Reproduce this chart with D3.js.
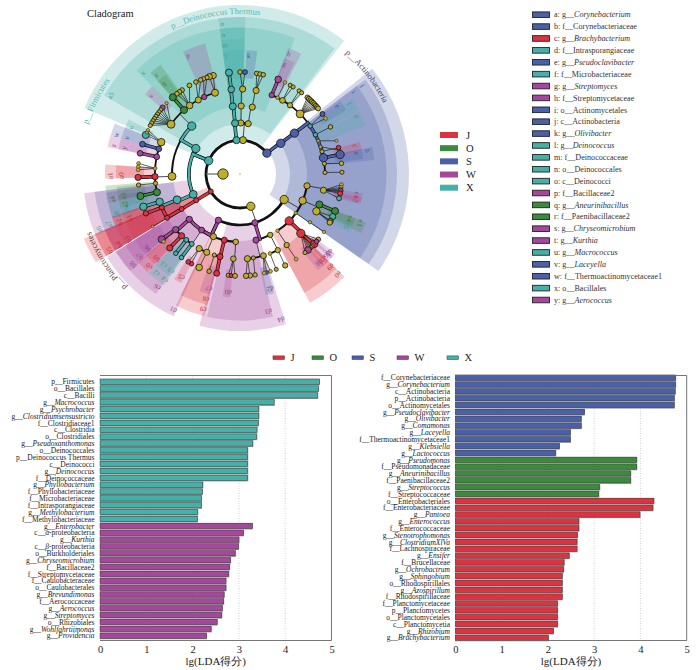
<!DOCTYPE html>
<html><head><meta charset="utf-8">
<script src="https://d3js.org/d3.v7.min.js"></script>
<style>html,body{margin:0;padding:0;background:#fff}svg{display:block}text{font-family:"Liberation Serif",serif}</style>
</head><body><svg id="c" width="700" height="670"></svg>
<script>
// ---------- bar chart data ----------
const leftTaxa=["p__Firmicutes","o__Bacillales","c__Bacilli","g__Macrococcus","g__Psychrobacter","g__Clostridiumsensustricto","f__Clostridiaceae1","c__Clostridia","o__Clostridiales","g__Pseudoxanthomonas","o__Deinococcales","p__Deinococcus Thermus","c__Deinococci","g__Deinococcus","f__Deinococcaceae","g__Phyllobacterium","f__Phyllobacteriaceae","f__Microbacteriaceae","f__Intrasporangiaceae","g__Methylobacterium","f__Methylobacteriaceae","g__Enterobacter","c__α-proteobacteria","g__Kurthia","c__β-proteobacteria","o__Burkholderiales","g__Chryseomicrobium","f__Bacillaceae2","f__Streptomycetaceae","f__Caulobacteraceae","o__Caulobacterales","g__Brevundimonas","f__Aerococcaceae","g__Aerococcus","g__Streptomyces","o__Rhizobiales","g__Wohlfahrtiimonas","g__Providencia"];
const leftValues=[4.74,4.72,4.70,3.76,3.43,3.43,3.42,3.39,3.385,3.30,3.19,3.19,3.19,3.19,3.19,2.22,2.21,2.19,2.19,2.11,2.10,3.29,3.10,3.00,2.99,2.92,2.82,2.80,2.78,2.72,2.72,2.68,2.67,2.64,2.63,2.53,2.40,2.30];
const leftGroups=["X","X","X","X","X","X","X","X","X","X","X","X","X","X","X","X","X","X","X","X","X","W","W","W","W","W","W","W","W","W","W","W","W","W","W","W","W","W"];
const rightTaxa=["f__Corynebacteriaceae","g__Corynebacterium","c__Actinobacteria","p__Actinobacteria","o__Actinomycetales","g__Pseudoclavibacter","g__Olivibacter","g__Comamonas","g__Laceyella","f__Thermoactinomycetaceae1","g__Klebsiella","g__Lactococcus","g__Pseudomonas","f__Pseudomonadaceae","g__Aneurinibacillus","f__Paenibacillaceae2","g__Streptococcus","f__Streptococcaceae","o__Enterobacteriales","f__Enterobacteriaceae","g__Pantoea","g__Enterococcus","f__Enterococcaceae","g__Stenotrophomonas","g__ClostridiumXlVa","f__Lachnospiraceae","g__Ensifer","f__Brucellaceae","g__Ochrobactrum","g__Sphingobium","o__Rhodospirillales","g__Azospirillum","f__Rhodospirillaceae","f__Planctomycetaceae","p__Planctomycetes","o__Planctomycetales","c__Planctomycetia","g__Rhizobium","g__Brachybacterium"];
const rightValues=[4.76,4.76,4.75,4.73,4.73,2.79,2.72,2.72,2.485,2.485,2.25,2.17,3.92,3.92,3.79,3.79,3.12,3.10,4.29,4.27,3.99,2.67,2.67,2.64,2.63,2.63,2.46,2.35,2.34,2.31,2.31,2.31,2.31,2.21,2.21,2.21,2.21,2.12,2.01];
const rightGroups=["S","S","S","S","S","S","S","S","S","S","S","S","O","O","O","O","O","O","J","J","J","J","J","J","J","J","J","J","J","J","J","J","J","J","J","J","J","J","J"];
const groupNames=["J","O","S","W","X"];
const groupColors=["#dd3340","#3c8a3c","#4a60a8","#a5479b","#45b0a8"];
const xTicks=[0,1,2,3,4,5];
// ---------- cladogram legend ----------
const cladeLegend=["a: g__Corynebacterium","b: f__Corynebacteriaceae","c: g__Brachybacterium","d: f__Intrasporangiaceae","e: g__Pseudoclavibacter","f: f__Microbacteriaceae","g: g__Streptomyces","h: f__Streptomycetaceae","i: o__Actinomycetales","j: c__Actinobacteria","k: g__Olivibacter","l: g__Deinococcus","m: f__Deinococcaceae","n: o__Deinococcales","o: c__Deinococci","p: f__Bacillaceae2","q: g__Aneurinibacillus","r: f__Paenibacillaceae2","s: g__Chryseomicrobium","t: g__Kurthia","u: g__Macrococcus","v: g__Laceyella","w: f__Thermoactinomycetaceae1","x: o__Bacillales","y: g__Aerococcus"];
const cladeLegendGroups=["S","S","J","X","S","X","W","W","S","S","S","X","X","X","X","W","O","O","W","W","X","S","S","X","W"];
// ---------- cladogram tree: angle read in degrees, group, abundance class, children ----------
const N="n";
const t=(a,g,s,kids)=>({a,g,s,kids:kids||[]});
const ls=(g,s,as)=>as.map(a=>t(a,g,s));
const actinobacteriaClade=t(52.2,"S",4,[t(53,"S",4,[t(53.1,"S",4,[
  t(21.9,"W",2.6,[t(22,"W",3.2)]),
  t(26.2,N,1.8,ls(N,1.8,[26.2])),
  t(30,N,2.8,ls(N,2,[29.5,31.4])),
  t(36,N,2.6,ls(N,2,[35.4,37.2])),
  t(45,N,3.8,ls(N,2.4,[41.4,42.5,43.6,44.7,45.8,46.9,48,49,50])),
  t(55.6,"X",2.2,[t(54,"S",2.4),t(57,N,1.8)]),
  t(62.5,"X",2.2,ls(N,2.2,[62.5])),
  t(67,N,1.6,ls(N,1.6,[71])),
  t(71.3,N,1.6,ls(N,1.6,[76.5])),
  t(74.7,N,2,[t(75,"J",2.2)]),
  t(79,"S",4,[t(79,"S",4)]),
  t(83,N,2,ls(N,2.2,[84])),
  t(89,N,2,ls(N,2,[89]))
])])]);
const planctomycetesClade=t(-121,"J",2.4,[t(-121,"J",2.4,[t(-121,"J",2.4,[t(-121,"J",2.4,ls(N,1.4,[-121])),t(-113.2,"J",2.4,[t(-112.7,"J",2.6)])])])]);
const firmicutesClade=t(-67,"X",4,[
  t(-60,"X",4,[
    t(-45.2,"X",4,[
      t(-17.1,N,3.4,ls(N,3,[-15.2,-17.5])),
      t(-24.9,"W",2.6,ls(N,2.2,[-18.9,-21])),
      t(-29.4,N,3,ls(N,2.2,[-22.7,-25.6])),
      t(-36.3,N,3.2,ls(N,2.3,[-29.7,-34.6,-36.4,-38.2])),
      t(-41.2,"O",3.4,[t(-41.2,"O",3.4)]),
      t(-54.2,N,3.8,[t(-46,N,1.6),t(-49.4,"W",2.6),...ls(N,2,[-51,-52.5,-54,-55.5,-57,-58.5,-60,-61.6])])
    ]),
    t(-92,N,3.8,[
      t(-68,N,3.6,[t(-67.5,"X",3.4),...ls(N,1.6,[-66,-64.5])]),
      t(-72.8,"S",2.8,[t(-73,"S",2.8)]),
      t(-78.3,"W",2.8,[t(-78.3,"W",2.8)]),
      t(-86.2,N,1.8,ls(N,1.8,[-84,-85.9,-87.7])),
      t(-91.8,"J",3,[t(-91.9,"J",3)]),
      t(-96.3,N,2.1,ls(N,2.1,[-96.2])),
      t(-102.4,"O",3.4,[t(-102.5,"O",3.4)])
    ])
  ]),
  t(-113.5,"X",3.8,[t(-112.3,"X",3.8,[t(-109.1,"X",3.6,[t(-108.7,"X",3.6)])])])
]);
const deinococcusClade=t(-6,"X",3.4,[t(-5.6,"X",3.4,[t(-6.1,"X",3.4,[t(-5.9,"X",3.2,[t(-6.2,"X",3.4)])])])]);
const unlabelledClade=t(5,N,3.4,[
  t(1,N,3,[t(1,N,3,[t(1.8,N,3,[t(0,N,2.2),t(2.8,"S",2.4)])])]),
  t(9.3,N,3,[t(10.4,N,3,[t(10.9,N,3,ls(N,2.2,[9.4,11.3,13.2]))])])
]);
const proteobacteriaClade=t(161.5,N,4,[
  t(120,N,4,[
    t(100,N,3,[t(101,N,3,[...ls(N,1.9,[96,97.5,98.5]),t(99.4,"W",2.4),t(100.2,N,1.9),t(101,"J",2.4),t(103.8,"X",2.4)])]),
    t(113,N,3.6,[t(111,"O",3.4,[t(111.3,"O",3.4)]),t(116,N,3.6,[t(114.7,"X",3),...ls(N,2.6,[117.3,117.7,118.4])])]),
    t(125,N,1.7,[t(124.6,N,1.7,ls(N,1.7,[124.6]))]),
    t(133.6,"J",4,[t(134.3,"J",4,[t(133.4,"J",3.6),t(129.8,N,2.2),t(131.4,"W",2.2),...ls(N,2,[135,136,137]),t(138.2,"W",3.2),t(140.4,N,2)])]),
    t(146.5,N,1.7,[t(146.7,N,2.6,ls(N,1.9,[146.6]))])
  ]),
  t(163,"W",3,[
    t(153.6,N,2.6,[t(153.6,N,2.6,ls(N,2.6,[153.7])),t(159.3,N,1.9,ls(N,2,[159.2]))]),
    t(166.4,"W",3,[t(164,N,2.9,[t(162.6,N,1.9),t(164.8,"S",1.9),t(166.3,N,1.9)]),t(171,N,2,ls(N,2.2,[171.5])),t(175,N,3,ls(N,2.6,[174.4,176.6]))])
  ]),
  t(205,"W",3,[
    t(183.6,N,2.7,[t(184.5,N,2.7,[t(186.6,N,2),t(185,"J",2),t(182.8,N,2.4)])]),
    t(193.4,"J",2.9,[t(193.6,"J",2.9,[t(193.2,"J",2.9)]),t(197.6,N,2,ls(N,2.2,[197.6]))]),
    t(203,N,3,[t(203,N,3,ls(N,3.2,[203.6])),t(208.7,N,3,[t(208.4,"J",2.2),t(210.5,"J",2.2)])]),
    t(214.4,"W",2.9,[t(214.6,"X",2.4,[t(215,"X",2.2)]),t(219.2,"X",2.4,[t(219,"X",2.2)])]),
    t(228.2,"W",3,[t(223.4,"J",3,[t(223.5,"J",3)]),t(229.2,"W",3,[t(230.2,"W",3.4),t(228.5,N,1.8)])])
  ])
]);
const cladoRoot=t(-90,N,5,[actinobacteriaClade,unlabelledClade,deinococcusClade,firmicutesClade,planctomycetesClade,proteobacteriaClade]);
// shaded clade sectors: letter, group, first and last angle, ring
const sectors=[
 ["",  "X",-67,38,0],["a5","X",-60,37,1],["x","X",-45,22,2],
 ["o","X",-8,2,1],["n","X",-8,2,2],["m","X",-8,2,3],["l","X",-8,2,4],
 ["k","S",3,8,4],["h","W",21,27,3],["g","W",21,26,4],["p","W",-25,-15,3],
 ["r","O",-41.5,-36,3],["q","O",-41.5,-37,4],["s","W",-50,-45,4],
 ["u","X",-68,-64,4],["w","S",-73.5,-68,3],["v","S",-73.5,-68,4],["z","W",-78.5,-73.5,3],["y","W",-78.5,-73.5,4],
 ["a1","J",-92,-86,3],["a0","J",-92,-86,4],["a4","O",-102.5,-95,3],["a3","O",-102,-96,4],["a2","O",-106,-100,4],
 ["","W",-113,-97,1],["","S",-113,-97,2],["","S",-109,-98,3],
 ["a6","X",-112.7,-112.7,1],["a7","X",-112.2,-112.2,2],["a8","X",-109.4,-103,3],["a9","X",-109.1,-103,4],
 ["",  "J",-121.5,-112.5,0],["b5","J",-121.5,-112.5,1],["b4","J",-121.5,-112.5,2],["b3","J",-121.5,-112.5,3],["","J",-121.5,-112.5,1],["","J",-121.5,-112.5,2],["","W",-121.5,-112.5,2],["","J",-121.5,-112.5,4],["b2","J",-113,-108.5,3],["b1","J",-113,-108.5,4],["","J",-113,-108.5,3],
 ["d1","W",205,238,1],["c6","W",215,238,2],["b8","W",228.5,238,2],["b7","W",229.5,238,3],["b6","W",230,238,4],
 ["c0","J",223.4,229,3],["b9","J",223.5,229,4],["c2","X",219,223,3],["c1","X",219,223,4],["c4","X",214.3,219,3],["c3","X",214.3,219,4],["c5","J",208.4,212,4],
 ["c9","J",194,206,2],["c8","J",194,206,3],["c7","W",194,199,4],
 ["d4","W",163,195,1],["d3","W",167,193,2],["d2","S",164,168,4],["d0","W",184.5,188,4],
 ["",  "S",51.5,125,0],["j","S",53,125,1],["i","S",53,125,2],["e","S",54,59,4],["f","X",56,62,3],["d","X",62.5,69,3],["c","J",75,79,4],["b","S",78.5,84,3],["a","S",78.5,83,4],
 ["e1","W",99,104,4],["e2","J",101,103,4],["e3","O",111,116,3],["e4","O",111,115,4],["e5","X",114.7,118,4],
 ["e0","J",134.5,151.5,2],["d9","J",134.5,151.5,3],["d5","W",130,133,4],["d6","W",131.5,136,4],["d7","J",134.5,138,4],["d8","W",137,141,4]
];
const phylumLabels=[["p__Firmicutes",-72,"#58b8b0"],["p__Deinococcus Thermus",-25,"#58b8b0"],["p__Actinobacteria",41,"#4a4a68"],["p__Planctomycetes",225,"#6a3a40"]];

// ---------- helpers ----------
const svg=d3.select("#c");
const colour=d3.scaleOrdinal().domain(groupNames).range(groupColors);
const nodeFill=g=>g===N?"#bdae2c":colour(g);
const rad=d=>d*Math.PI/180;
function taxonLabel(sel,name){
  const m=name.match(/^(.)__(.*)$/);const pre=m[1],body=m[2];
  if(pre==="g"){sel.append("tspan").text("g__");sel.append("tspan").attr("font-style","italic").text(body);}
  else if(/^[αβ]-/.test(body)){sel.append("tspan").text(pre+"__");sel.append("tspan").attr("font-style","italic").text(body[0]);sel.append("tspan").text(body.slice(1));}
  else sel.append("tspan").text(name);
}
// ---------- bars ----------
function barPanel(taxa,values,groups,x0,x1,yFirst,yLast,labelX){
  const x=d3.scaleLinear().domain([0,5]).range([x0,x1]);
  const y=d3.scalePoint().domain(taxa).range([yFirst,yLast]);
  const top=375.5,bottom=640.5;
  const g=svg.append("g");
  g.selectAll("line.grid").data(xTicks.slice(1,-1)).join("line").attr("x1",x).attr("x2",x).attr("y1",top).attr("y2",bottom).attr("stroke","#bbb").attr("stroke-width",.7).attr("stroke-dasharray","1,1.5");
  g.selectAll("rect.s").data(taxa).join("rect").attr("x",x0).attr("y",d=>y(d)-3.2).attr("height",6.5).attr("width",(d,i)=>x(values[i])-x0+.6).attr("fill","#999");
  g.selectAll("rect.b").data(taxa).join("rect").attr("x",x0).attr("y",d=>y(d)-3).attr("height",5.3).attr("width",(d,i)=>x(values[i])-x0).attr("fill",(d,i)=>colour(groups[i])).attr("stroke","#333").attr("stroke-width",.45);
  g.append("path").attr("d",`M${x0},${top}H${x1}V${bottom}H${x0}`).attr("fill","none").attr("stroke","#666").attr("stroke-width",.9);
  g.selectAll("text.lab").data(taxa).join("text").attr("x",labelX).attr("y",d=>y(d)+2.4).attr("text-anchor","end").attr("font-size",7.5).attr("fill","#222").each(function(d){taxonLabel(d3.select(this),d)});
  const axis=d3.axisBottom(x).tickValues(xTicks).tickSize(0).tickFormat(d3.format("d"));
  const ax=g.append("g").attr("transform",`translate(0,${bottom})`).call(axis);
  ax.select(".domain").remove();
  ax.selectAll("text").attr("font-family","Liberation Serif").attr("font-size",10.5).attr("fill","#222").attr("dy",".9em");
  g.append("text").attr("x",(x0+x1)/2).attr("y",665).attr("text-anchor","middle").attr("font-size",11).attr("fill","#222").attr("font-family","'Liberation Serif','Noto Sans CJK SC',serif").text("lg(LDA得分)");
}
barPanel(leftTaxa,leftValues,leftGroups,100,331.5,382,636,94.5);
barPanel(rightTaxa,rightValues,rightGroups,455.3,686.7,378,638,450);
// bars legend
const barLegX=d3.scaleOrdinal().domain(groupNames).range([273,312,352,397,447]);
const bl=svg.append("g").selectAll("g").data(groupNames).join("g").attr("transform",d=>`translate(${barLegX(d)},357.7)`);
bl.append("rect").attr("y",-1.8).attr("width",11.5).attr("height",3.6).attr("fill",d=>colour(d)).attr("stroke","#333").attr("stroke-width",.5);
bl.append("text").attr("x",17.5).attr("y",3.5).attr("font-size",10.5).attr("fill","#222").text(d=>d);
// cladogram legends
const midY=d3.scalePoint().domain(groupNames).range([135,187.7]);
const ml=svg.append("g").selectAll("g").data(groupNames).join("g").attr("transform",d=>`translate(440,${midY(d)})`);
ml.append("rect").attr("y",-3).attr("width",18).attr("height",6).attr("fill",d=>colour(d));
ml.append("text").attr("x",26).attr("y",3.6).attr("font-size",10.5).attr("fill","#222").text(d=>d);
const rightY=d3.scalePoint().domain(cladeLegend).range([14.7,300]);
const rl=svg.append("g").selectAll("g").data(cladeLegend).join("g").attr("transform",d=>`translate(532.5,${rightY(d)})`);
rl.append("rect").attr("y",-2.8).attr("width",17).attr("height",5.6).attr("fill",(d,i)=>colour(cladeLegendGroups[i])).attr("stroke","#222").attr("stroke-width",.9);
rl.append("text").attr("x",21.5).attr("y",2.7).attr("font-size",8.1).attr("fill","#333").each(function(d){
  const s=d3.select(this);s.append("tspan").text(d.slice(0,3));taxonLabel(s,d.slice(3));});
svg.append("text").attr("x",87).attr("y",17).attr("font-size",10.5).attr("fill","#222").text("Cladogram");

// ---------- cladogram ----------
const cx=240,cy=174;
const clado=svg.append("g").attr("transform",`translate(${cx},${cy})`);
const radius=d3.scaleLinear().domain([0,6]).range([0,102]);
const dotR=d3.scaleLinear().domain([1,5]).range([1,5.2]);
const ringIn=[36,50,67,85,96],ringOut=[169,157,146.5,135,124],ringLab=[0,151,140,129.5,118.5];
const arcGen=d3.arc();
clado.selectAll("path.sector").data(sectors.filter(d=>d[2]!==d[3])).join("path").attr("d",d=>arcGen({innerRadius:ringIn[d[4]],outerRadius:ringOut[d[4]],startAngle:rad(d[2]),endAngle:rad(d[3])})).attr("fill",d=>colour(d[1])).attr("fill-opacity",.25);
clado.selectAll("text.sec").data(sectors.filter(d=>d[0])).join("text")
  .attr("transform",d=>{const a=d[2]+1.2;const p=d3.pointRadial(rad(a),ringLab[d[4]]);return `translate(${p[0]},${p[1]}) rotate(${a})`})
  .attr("text-anchor","middle").attr("dy","0.3em").attr("font-size",7).attr("fill",d=>d3.color(colour(d[1])).darker(.4)).text(d=>d[0]);
// phylum labels along the rim
phylumLabels.forEach((d,i)=>{
  const p=d3.path();const a0=rad(d[1])-Math.PI/2;p.arc(0,0,160,a0,a0+2);
  clado.append("path").attr("id","rim"+i).attr("d",p.toString()).attr("fill","none");
  clado.append("text").attr("font-size",8.6).attr("fill",d[2]).append("textPath").attr("href","#rim"+i).text(d[0]);
});
// tree
const nodes=[];
(function walk(n,level,parent){n.level=level;n.parent=parent;n.r=radius(level);nodes.push(n);n.kids.forEach(k=>walk(k,level+1,n));})(cladoRoot,1,null);
const linkLayer=clado.append("g"),nodeLayer=clado.append("g");
const arcWidth={2:2.8,3:2.6,4:2.1,5:1.8};
nodes.filter(n=>n.kids.length).forEach(p=>{
  const lv=p.level+1,r=radius(lv);
  const as=p.kids.map(k=>k.a);
  if(lv<=5){
    let lo=d3.min(as),hi=d3.max(as),pa=p.a;
    while(pa<lo-180)pa+=360; while(pa>hi+180)pa-=360;
    if(p.level===1){ // proteobacteria branch closes the ring through the lower left
      const shifted=as.map(a=>a>150?a-360:a);lo=d3.min(shifted);hi=d3.max(shifted);
    }
    lo=Math.min(lo,pa);hi=Math.max(hi,pa);
    if(hi>lo)linkLayer.append("path").attr("d",arcGen({innerRadius:r-arcWidth[lv]/2,outerRadius:r+arcWidth[lv]/2,startAngle:rad(lo),endAngle:rad(hi)})).attr("fill","#111");
    const A=d3.pointRadial(rad(pa),p.r),B=d3.pointRadial(rad(pa),r);
    linkLayer.append("line").attr("x1",A[0]).attr("y1",A[1]).attr("x2",B[0]).attr("y2",B[1]).attr("stroke",p.level===1?"#666":"#222").attr("stroke-width",p.level===1?1.2:.8);
  }
});
function fanPath(p,c){const A=d3.pointRadial(rad(p.a),p.r),B=d3.pointRadial(rad(c.a),c.r);return `M${A}L${B}`;}
function chainPath(p,c){
  let pa=p.a;while(pa<c.a-180)pa+=360;while(pa>c.a+180)pa-=360;
  const q=d3.path(),A=d3.pointRadial(rad(pa),p.r),B=d3.pointRadial(rad(pa),c.r);
  q.moveTo(A[0],A[1]);q.lineTo(B[0],B[1]);
  if(Math.abs(pa-c.a)>.01)q.arc(0,0,c.r,rad(pa)-Math.PI/2,rad(c.a)-Math.PI/2,c.a<pa);
  return q.toString();
}
nodes.filter(n=>n.parent).forEach(c=>{
  const p=c.parent,same=c.g!==N&&c.g===p.g,isLeaf=c.level===6;
  if(!same&&isLeaf){linkLayer.append("path").attr("d",fanPath(p,c)).attr("stroke","#111").attr("stroke-width",.65).attr("fill","none");}
  if(same){
    const d=isLeaf?fanPath(p,c):chainPath(p,c);
    linkLayer.append("path").attr("d",d).attr("fill","none").attr("stroke","#111").attr("stroke-width",3.6);
    linkLayer.append("path").attr("d",d).attr("fill","none").attr("stroke",colour(c.g)).attr("stroke-width",2.3);
  }
});
nodeLayer.selectAll("circle").data(nodes).join("circle")
  .attr("cx",d=>d3.pointRadial(rad(d.a),d.r)[0]).attr("cy",d=>d3.pointRadial(rad(d.a),d.r)[1])
  .attr("r",d=>dotR(d.s)).attr("fill",d=>nodeFill(d.g)).attr("stroke","#111").attr("stroke-width",d=>d.s<2?.5:.8);
nodeLayer.append("circle").attr("r",.8).attr("fill","#bdae2c");
</script></body></html>
